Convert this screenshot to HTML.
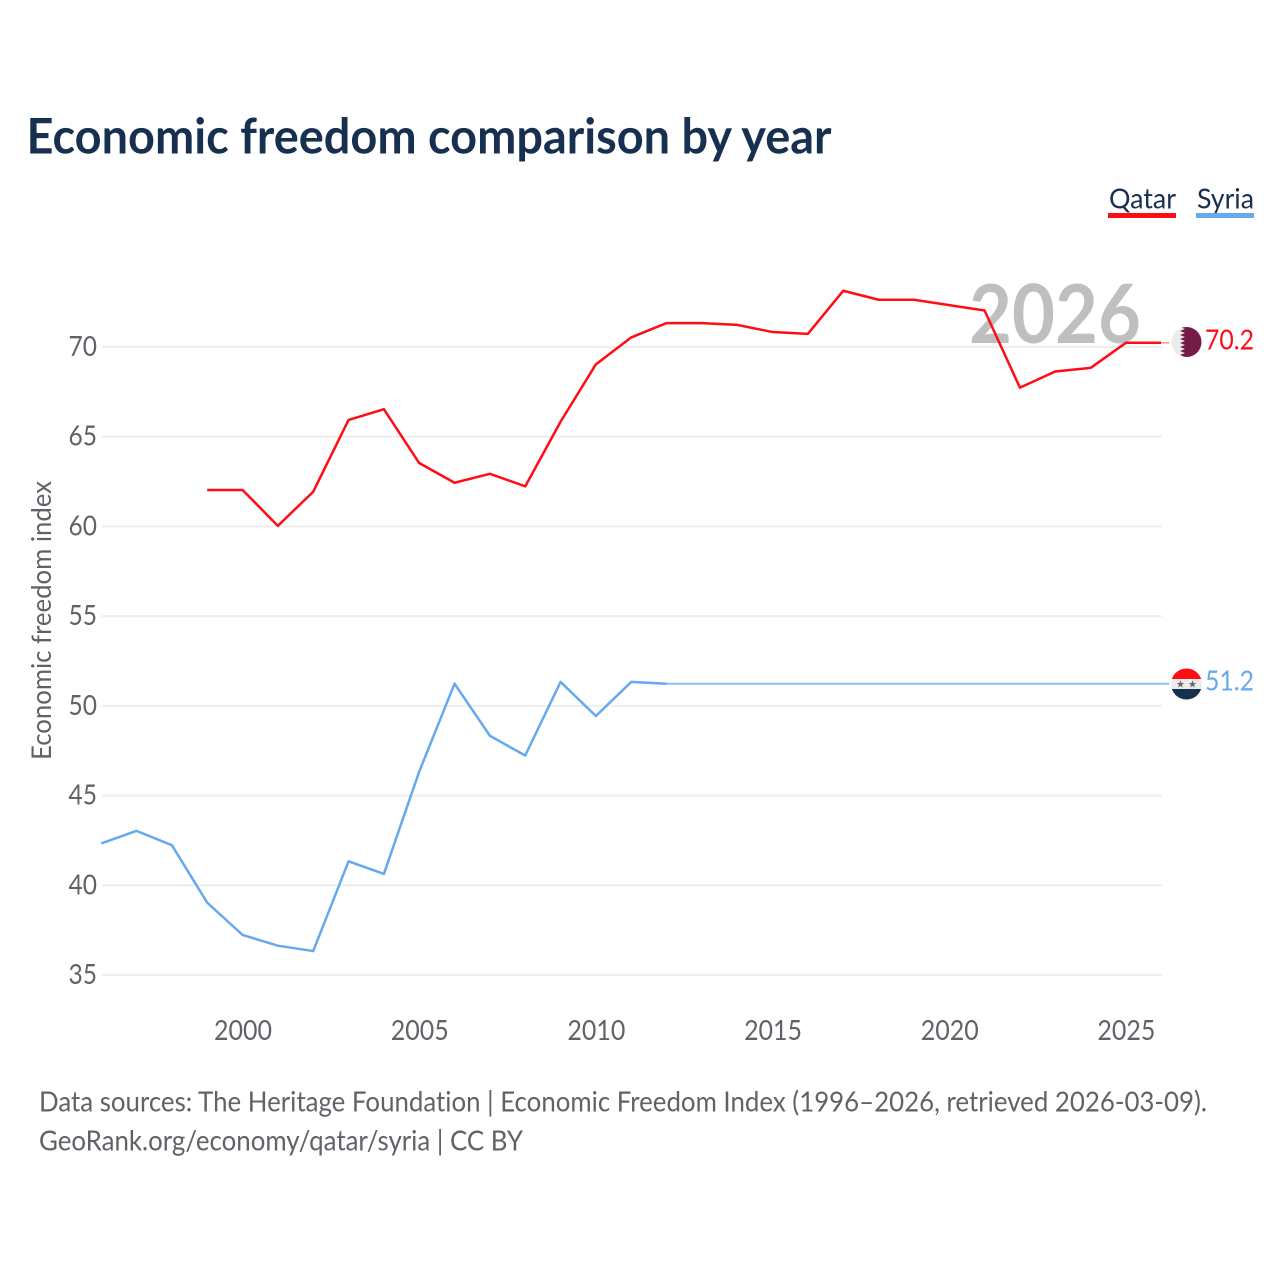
<!DOCTYPE html>
<html lang="en">
<head>
<meta charset="utf-8">
<title>Economic freedom comparison by year</title>
<style>
html,body{margin:0;padding:0;background:#fff;}
svg{display:block;font-family:"Lato","Carlito","Liberation Sans",sans-serif;font-variant-ligatures:none;}
</style>
</head>
<body>
<svg id="chart" width="1280" height="1280" viewBox="0 0 1280 1280" xmlns="http://www.w3.org/2000/svg">
  <rect x="0" y="0" width="1280" height="1280" fill="#fff"/>
  <text x="26.500" y="153.500" font-size="48.500" font-weight="700" fill="#18304f" textLength="805" lengthAdjust="spacingAndGlyphs">Economic freedom comparison by year</text>

  <g>
    <text x="1109" y="208.500" font-size="28.500" fill="#18304f" textLength="67" lengthAdjust="spacingAndGlyphs">Qatar</text>
    <rect x="1108" y="213" width="68" height="5" fill="#ff0d14"/>
  </g>
  <g>
    <text x="1197" y="208.500" font-size="28.500" fill="#18304f" textLength="57" lengthAdjust="spacingAndGlyphs">Syria</text>
    <rect x="1196" y="213" width="58" height="5" fill="#65a9ee"/>
  </g>

  <text x="1055" y="343" font-size="81" font-weight="700" fill="#bfbfbf" text-anchor="middle" textLength="172" lengthAdjust="spacingAndGlyphs">2026</text>

  <g id="grid"></g>
  <g id="yticks"></g>
  <g id="xticks"></g>

  <text transform="translate(51,620.500) rotate(-90)" font-size="27" fill="#5f6368" text-anchor="middle" textLength="279" lengthAdjust="spacingAndGlyphs">Economic freedom index</text>

  <g id="series" transform="translate(-0.5,-0.6)"></g>

  <g>
    <clipPath id="clip-qatar"><circle cx="1186.500" cy="342" r="15"/></clipPath>
    <g clip-path="url(#clip-qatar)">
      <rect x="1171" y="327" width="31" height="30" fill="#ececec"/>
      <polygon points="1202,327 1180,327 1185,329 1180,331 1185,333 1180,335 1185,337 1180,339 1185,341 1180,343 1185,345 1180,347 1185,349 1180,351 1185,353 1180,355 1185,357 1202,357" fill="#741b47"/>
    </g>
  </g>
  <g>
    <clipPath id="clip-syria"><circle cx="1186.500" cy="684" r="15.5"/></clipPath>
    <g clip-path="url(#clip-syria)">
      <rect x="1170" y="668" width="33" height="11" fill="#ff0d14"/>
      <rect x="1170" y="679" width="33" height="10" fill="#ececec"/>
      <rect x="1170" y="689" width="33" height="11" fill="#18304f"/>
      <text x="1180.500" y="687.500" font-size="10" fill="#666" text-anchor="middle">★</text>
      <text x="1192.500" y="687.500" font-size="10" fill="#666" text-anchor="middle">★</text>
    </g>
  </g>

  <text x="1254" y="349.500" font-size="28.500" fill="#ff0d14" text-anchor="end" textLength="49" lengthAdjust="spacingAndGlyphs">70.2</text>
  <text x="1254" y="690.500" font-size="28.500" fill="#65a9ee" text-anchor="end" textLength="49" lengthAdjust="spacingAndGlyphs">51.2</text>

  <text x="39" y="1111.500" font-size="28.500" fill="#5f6368" textLength="1168" lengthAdjust="spacingAndGlyphs">Data sources: The Heritage Foundation | Economic Freedom Index (1996–2026, retrieved 2026-03-09).</text>
  <text x="39" y="1150.500" font-size="28.500" fill="#5f6368" textLength="484" lengthAdjust="spacingAndGlyphs">GeoRank.org/economy/qatar/syria | CC BY</text>
</svg>
<script>
const yTicks = [35, 40, 45, 50, 55, 60, 65, 70];
const xTicks = [2000, 2005, 2010, 2015, 2020, 2025];
const qatarYears = [1999,2000,2001,2002,2003,2004,2005,2006,2007,2008,2009,2010,2011,2012,2013,2014,2015,2016,2017,2018,2019,2020,2021,2022,2023,2024,2025,2026];
const qatarValues = [62.0,62.0,60.0,61.9,65.9,66.5,63.5,62.4,62.9,62.2,65.8,69.0,70.5,71.3,71.3,71.2,70.8,70.7,73.1,72.6,72.6,72.3,72.0,67.7,68.6,68.8,70.2,70.2];
const syriaYears = [1996,1997,1998,1999,2000,2001,2002,2003,2004,2005,2006,2007,2008,2009,2010,2011,2012];
const syriaValues = [42.3,43.0,42.2,39.0,37.2,36.6,36.3,41.3,40.6,46.3,51.2,48.3,47.2,51.3,49.4,51.3,51.2];
const syriaCarryYears = [2012,2026];
const syriaCarryValues = [51.2,51.2];

const SVG_NS = 'http://www.w3.org/2000/svg';
function xScale(year){ return 101.7 + (year - 1996) * 35.335; }
function yScale(value){ return 975 - (value - 35) * 17.943; }
function make(tag, attrs, parent){
  const el = document.createElementNS(SVG_NS, tag);
  for (const k in attrs) el.setAttribute(k, attrs[k]);
  parent.appendChild(el);
  return el;
}
function pointsFor(years, values){
  return years.map(function(y, i){ return xScale(y).toFixed(2) + ',' + yScale(values[i]).toFixed(2); }).join(' ');
}

const grid = document.getElementById('grid');
const yGroup = document.getElementById('yticks');
const xGroup = document.getElementById('xticks');
yTicks.forEach(function(t){
  const line = make('line', {x1: xScale(1996), x2: xScale(2026), y1: yScale(t), y2: yScale(t), stroke: '#eeeeee', 'stroke-width': 2}, grid);
  
  
  const label = make('text', {x: 97, y: yScale(t) + 9, 'font-size': 28.5, fill: '#5f6368', 'text-anchor': 'end', textLength: 28.5, lengthAdjust: 'spacingAndGlyphs'}, yGroup);
  
  
  label.textContent = t;
});
xTicks.forEach(function(t){
  const label = make('text', {x: xScale(t), y: 1040, 'font-size': 28.5, fill: '#5f6368', 'text-anchor': 'middle', textLength: 58, lengthAdjust: 'spacingAndGlyphs'}, xGroup);
  
  
  label.textContent = t;
});

const series = document.getElementById('series');
const carry = make('polyline', {points: pointsFor(syriaCarryYears, syriaCarryValues), fill: 'none', stroke: '#65a9ee', 'stroke-width': 2, 'stroke-opacity': 0.75}, series);


const syriaStub = make('line', {x1: xScale(2026), x2: xScale(2026) + 8, y1: yScale(51.2), y2: yScale(51.2), stroke: '#65a9ee', 'stroke-width': 2, 'stroke-opacity': 0.75}, series);


const syria = make('polyline', {points: pointsFor(syriaYears, syriaValues), fill: 'none', stroke: '#65a9ee', 'stroke-width': 2.5, 'stroke-linejoin': 'round'}, series);


const qatar = make('polyline', {points: pointsFor(qatarYears, qatarValues), fill: 'none', stroke: '#ff0d14', 'stroke-width': 2.5, 'stroke-linejoin': 'round'}, series);


const qatarStub = make('line', {x1: xScale(2026) + 1, x2: xScale(2026) + 8, y1: yScale(70.2), y2: yScale(70.2), stroke: '#ff0d14', 'stroke-width': 1, 'stroke-opacity': 0.7}, series);


</script>
</body>
</html>
